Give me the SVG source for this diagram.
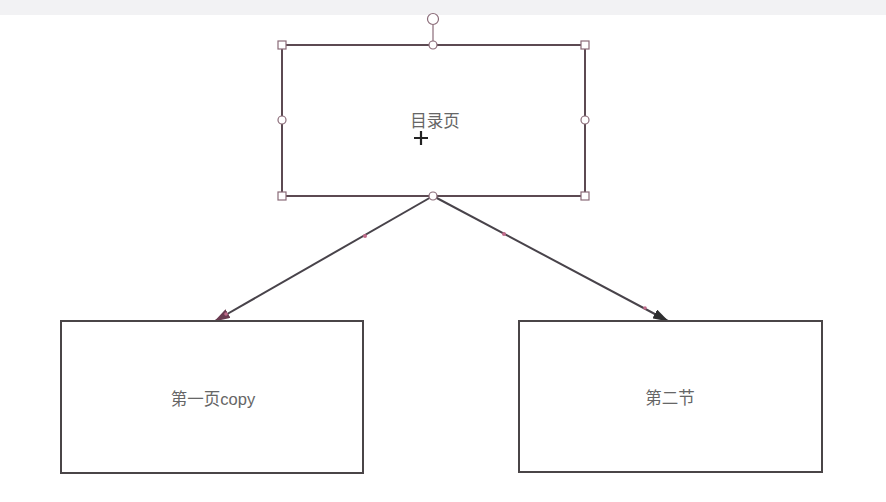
<svg xmlns="http://www.w3.org/2000/svg" width="886" height="502" viewBox="0 0 886 502">
<style>
.box{fill:#fff;stroke:#4a4547;stroke-width:2}
.sel{fill:#fff;stroke:#5c4a52;stroke-width:2}
.lbl{font-family:"Liberation Sans","Noto Sans CJK SC",sans-serif;font-size:16.5px;fill:#666;text-anchor:middle;dominant-baseline:central}
.h{fill:#fff;stroke:#8a6b78;stroke-width:1.2}
.edge{stroke:#48434a;stroke-width:2;fill:none}
.dot{fill:#c06a8a}
</style>
<defs>
<marker id="arrL" viewBox="0 0 16 10" refX="15" refY="5" markerWidth="16" markerHeight="10" markerUnits="userSpaceOnUse" orient="auto">
<path d="M0,0 L16,5 L0,10 z" fill="#6a3a50"/>
</marker>
<marker id="arrR" viewBox="0 0 16 10" refX="15" refY="5" markerWidth="16" markerHeight="10" markerUnits="userSpaceOnUse" orient="auto">
<path d="M0,0 L16,5 L0,10 z" fill="#2e2e30"/>
</marker>
</defs>
<rect x="0" y="0" width="886" height="15" fill="#f2f2f4"/>
<g id="connectors">
<path class="edge" d="M433,196 L215,321" marker-end="url(#arrL)"/>
<path class="edge" d="M433,196 L668,321" marker-end="url(#arrR)"/>
<circle class="dot" cx="365" cy="236" r="2"/>
<circle class="dot" cx="504" cy="234" r="2"/>
<circle class="dot" cx="645" cy="308" r="1.8"/>
<circle class="dot" cx="226" cy="314" r="1.8"/>
</g>
<g id="node-toc">
<line x1="433" y1="25" x2="433" y2="45" stroke="#8a6b78" stroke-width="1.2"/>
<rect class="sel" x="282" y="45" width="303" height="151"/>
<text class="lbl" x="435" y="121">目录页</text>
<circle class="h" cx="433" cy="19" r="5.5"/>
<rect class="h" x="278" y="41" width="8" height="8"/>
<rect class="h" x="581" y="41" width="8" height="8"/>
<rect class="h" x="278" y="192" width="8" height="8"/>
<rect class="h" x="581" y="192" width="8" height="8"/>
<circle class="h" cx="433" cy="45" r="4"/>
<circle class="h" cx="282" cy="120" r="4"/>
<circle class="h" cx="585" cy="120" r="4"/>
<circle class="h" cx="433" cy="196" r="4"/>
<path d="M421,131 L421,145 M414,138 L428,138" stroke="#222" stroke-width="2.2"/>
</g>
<g id="node-page1">
<rect class="box" x="61" y="321" width="302" height="152"/>
<text class="lbl" x="213" y="399">第一页copy</text>
</g>
<g id="node-section2">
<rect class="box" x="519" y="321" width="303" height="151"/>
<text class="lbl" x="670" y="398">第二节</text>
</g>
</svg>
